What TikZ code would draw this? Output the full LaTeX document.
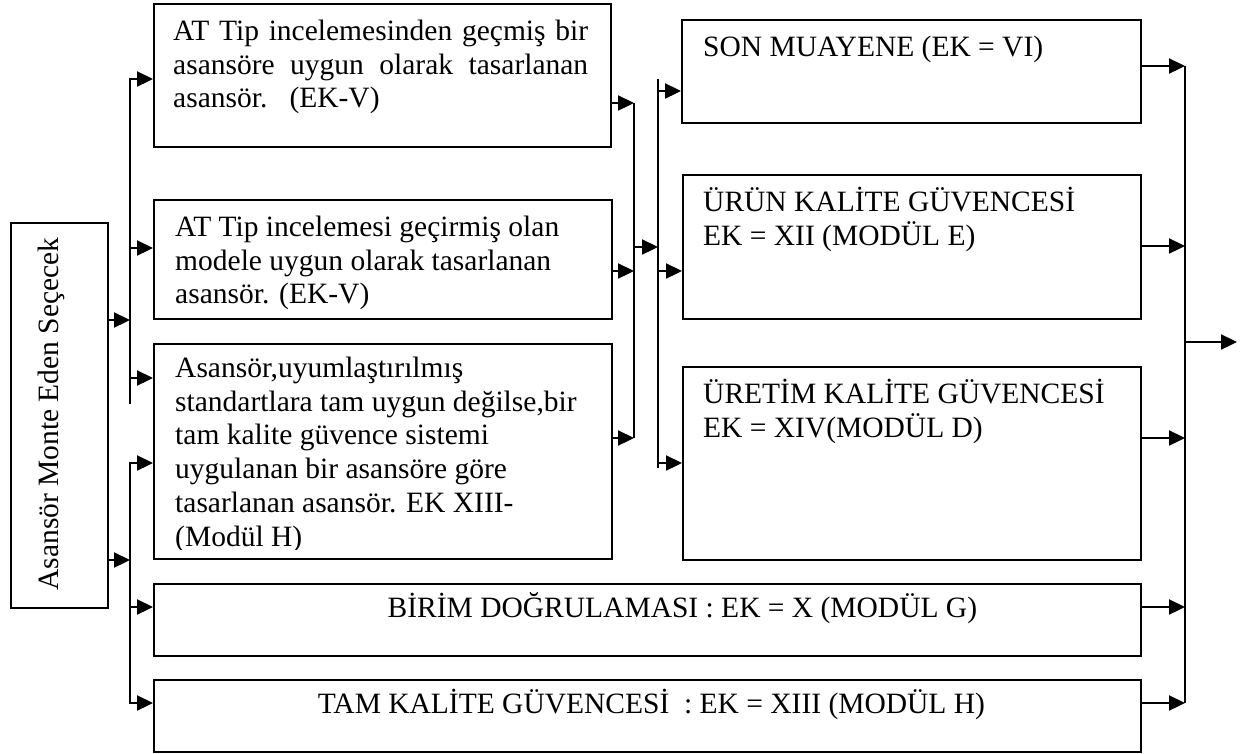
\documentclass[tikz,border=0pt]{standalone}
\usepackage{fontspec}
\setmainfont{Liberation Serif}
\usetikzlibrary{arrows.meta}
\setlength{\parindent}{0pt}
\newcommand{\tstrut}{\rule{0pt}{26pt}}
\begin{document}
\begin{tikzpicture}[x=1pt,y=-1pt,
  box/.style={draw,line width=1.9pt,inner sep=0pt,anchor=north west},
  txt/.style={anchor=north west,inner sep=0pt,align=left,font=\fontsize{29.5}{33.8}\selectfont},
  ctxt/.style={anchor=base,inner sep=0pt,font=\fontsize{29.5}{33.8}\selectfont},
  ln/.style={line width=2.3pt},
  arr/.style={line width=2.3pt,-{Triangle[length=16pt,width=15pt]}}]
\useasboundingbox (0,0) rectangle (1243,753);

% boxes
\node[box,minimum width=97pt,minimum height=385pt] (L) at (10,222) {};
\node[box,minimum width=457pt,minimum height=143pt] (b1) at (153,3) {};
\node[box,minimum width=458pt,minimum height=119pt] (b2) at (153,199) {};
\node[box,minimum width=458pt,minimum height=215pt] (b3) at (153,343) {};
\node[box,minimum width=987pt,minimum height=72pt] (b4) at (153,583) {};
\node[box,minimum width=987pt,minimum height=72pt] (b5) at (153,679) {};
\node[box,minimum width=459pt,minimum height=103pt] (r1) at (681,19) {};
\node[box,minimum width=458pt,minimum height=144pt] (r2) at (682,174) {};
\node[box,minimum width=458pt,minimum height=193pt] (r3) at (682,366) {};

% texts
\node[txt,rotate=90,anchor=center] (Lt) at (51,414) {Asansör Monte Eden Seçecek};
\node[txt,text width=415pt,align=justify] (t1) at ([shift={(20,11)}]b1.north west)
  {\tstrut AT Tip incelemesinden geçmiş bir\linebreak asansöre uygun olarak tasarlanan\linebreak asansör.\ \ \ (EK-V)};
\node[txt] (t2) at ([shift={(22,11)}]b2.north west)
  {\tstrut AT Tip incelemesi geçirmiş olan\\ modele uygun olarak tasarlanan\\ asansör. (EK-V)};
\begin{scope}
\clip (153,343) rectangle (611,549);
\node[txt] (t3) at ([shift={(22,8)}]b3.north west)
  {\tstrut Asansör,uyumlaştırılmış\\ standartlara tam uygun değilse,bir\\ tam kalite güvence sistemi\\ uygulanan bir asansöre göre\\ tasarlanan asansör. EK XIII-\\ (Modül H)};
\end{scope}
\node[txt] (rt1) at ([shift={(22,11)}]r1.north west) {\tstrut SON MUAYENE (EK = VI)};
\node[txt] (rt2) at ([shift={(21,11)}]r2.north west) {\tstrut ÜRÜN KALİTE GÜVENCESİ\\ EK = XII (MODÜL E)};
\node[txt] (rt3) at ([shift={(21,11)}]r3.north west) {\tstrut ÜRETİM KALİTE GÜVENCESİ\\ EK = XIV(MODÜL D)};
\node[ctxt] (t4) at ([xshift=35pt,yshift=2pt]b4.center) {BİRİM DOĞRULAMASI : EK = X (MODÜL G)};
\node[ctxt] (t5) at ([xshift=4pt,yshift=2pt]b5.center) {TAM KALİTE GÜVENCESİ\ \ : EK = XIII (MODÜL H)};

% left buses
\coordinate (aT) at (130,79);
\coordinate (a2) at (130,248);
\coordinate (a3) at (130,378);
\coordinate (aB) at (130,404);
\coordinate (aIn) at (130,320);
\draw[arr] (aB) -- (aT) -- (b1.west |- aT);
\draw[arr] (a2) -- (b2.west |- a2);
\draw[arr] (a3) -- (b3.west |- a3);
\draw[arr] (L.east |- aIn) -- (aIn);

\coordinate (bT) at (130,463);
\coordinate (b4in) at (130,607);
\coordinate (bB) at (130,703);
\coordinate (bIn) at (130,560);
\draw[arr] (bB) -- (bT) -- (b3.west |- bT);
\draw[arr] (b4in) -- (b4.west |- b4in);
\draw[arr] (bT) -- (bB) -- (b5.west |- bB);
\draw[arr] (L.east |- bIn) -- (bIn);

% middle buses
\coordinate (c1) at (634,103);
\coordinate (c2) at (634,271);
\coordinate (c3) at (634,438);
\coordinate (cOut) at (634,247);
\draw[ln] (c1) -- (c3);
\draw[arr] (b1.east |- c1) -- (c1);
\draw[arr] (b2.east |- c2) -- (c2);
\draw[arr] (b3.east |- c3) -- (c3);

\coordinate (dT) at (658,79);
\coordinate (d1) at (658,91);
\coordinate (d2) at (658,271);
\coordinate (d3) at (658,463);
\coordinate (dB) at (658,468);
\coordinate (dIn) at (658,247);
\draw[arr] (cOut) -- (dIn);
\draw[ln] (dT) -- (dB);
\draw[arr] (d1) -- (r1.west |- d1);
\draw[arr] (d2) -- (r2.west |- d2);
\draw[arr] (d3) -- (r3.west |- d3);

% right bus
\coordinate (eT) at (1185,66);
\coordinate (e2) at (1185,246);
\coordinate (e3) at (1185,438);
\coordinate (e4) at (1185,607);
\coordinate (eB) at (1185,703);
\coordinate (eOut) at (1185,342);
\coordinate (fin) at (1237,342);
\draw[ln] (eT) -- (eB);
\draw[arr] (r1.east |- eT) -- (eT);
\draw[arr] (r2.east |- e2) -- (e2);
\draw[arr] (r3.east |- e3) -- (e3);
\draw[arr] (b4.east |- e4) -- (e4);
\draw[arr] (b5.east |- eB) -- (eB);
\draw[arr] (eOut) -- (fin);
\end{tikzpicture}
\end{document}
